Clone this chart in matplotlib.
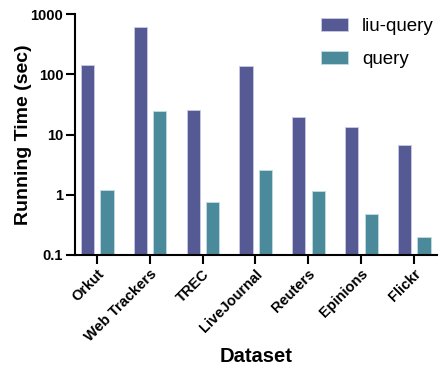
import numpy as np
import matplotlib.pyplot as plt
from matplotlib.ticker import FixedLocator, NullLocator

plt.rcParams['font.family'] = ['Liberation Sans', 'DejaVu Sans']

datasets = ['Orkut', 'Web Trackers', 'TREC', 'LiveJournal', 'Reuters', 'Epinions', 'Flickr']
liu_query = [141, 600, 26, 135, 19.5, 13.2, 6.6]
query = [1.22, 25, 0.76, 2.55, 1.15, 0.48, 0.2]

fig = plt.figure(figsize=(4.4, 3.66), dpi=100)
ax = fig.add_axes([0.1705, 0.3033, 0.8225, 0.6584])

x = np.arange(len(datasets))
w = 0.25
ax.bar(x - 0.18, liu_query, w, color='#555a94', edgecolor='#c9cbe6', linewidth=0.6, label='liu-query')
ax.bar(x + 0.19, query, w, color='#4b8a9b', edgecolor='#c4dde3', linewidth=0.6, label='query')

ax.set_yscale('log')
ax.set_ylim(0.1, 1000)
ax.set_xlim(-0.417, 6.436)
ax.yaxis.set_major_locator(FixedLocator([0.1, 1, 10, 100, 1000]))
ax.yaxis.set_minor_locator(NullLocator())
ax.set_yticklabels(['0.1', '1', '10', '100', '1000'], fontweight='bold', fontsize=10.5)
ax.set_xticks(x)
ax.set_xticklabels(datasets, rotation=45, ha='right', rotation_mode='anchor',
                   fontweight='bold', fontsize=10.5)

for s in ['top', 'right']:
    ax.spines[s].set_visible(False)
for s in ['left', 'bottom']:
    ax.spines[s].set_linewidth(1.5)
ax.tick_params(axis='both', length=6.5, width=1.5, pad=2)

ax.set_ylabel('Running Time (sec)', fontweight='bold', fontsize=14, labelpad=-1)
ax.set_xlabel('Dataset', fontweight='bold', fontsize=14.5, labelpad=2)

ax.legend(loc='upper left', bbox_to_anchor=(321 / 440, 1 - 18 / 366),
          bbox_transform=fig.transFigure, frameon=False, fontsize=13.5,
          borderpad=0, borderaxespad=0,
          handlelength=1.44, handleheight=0.7, labelspacing=0.85, handletextpad=0.75)

fig.savefig('out.png', dpi=100)
